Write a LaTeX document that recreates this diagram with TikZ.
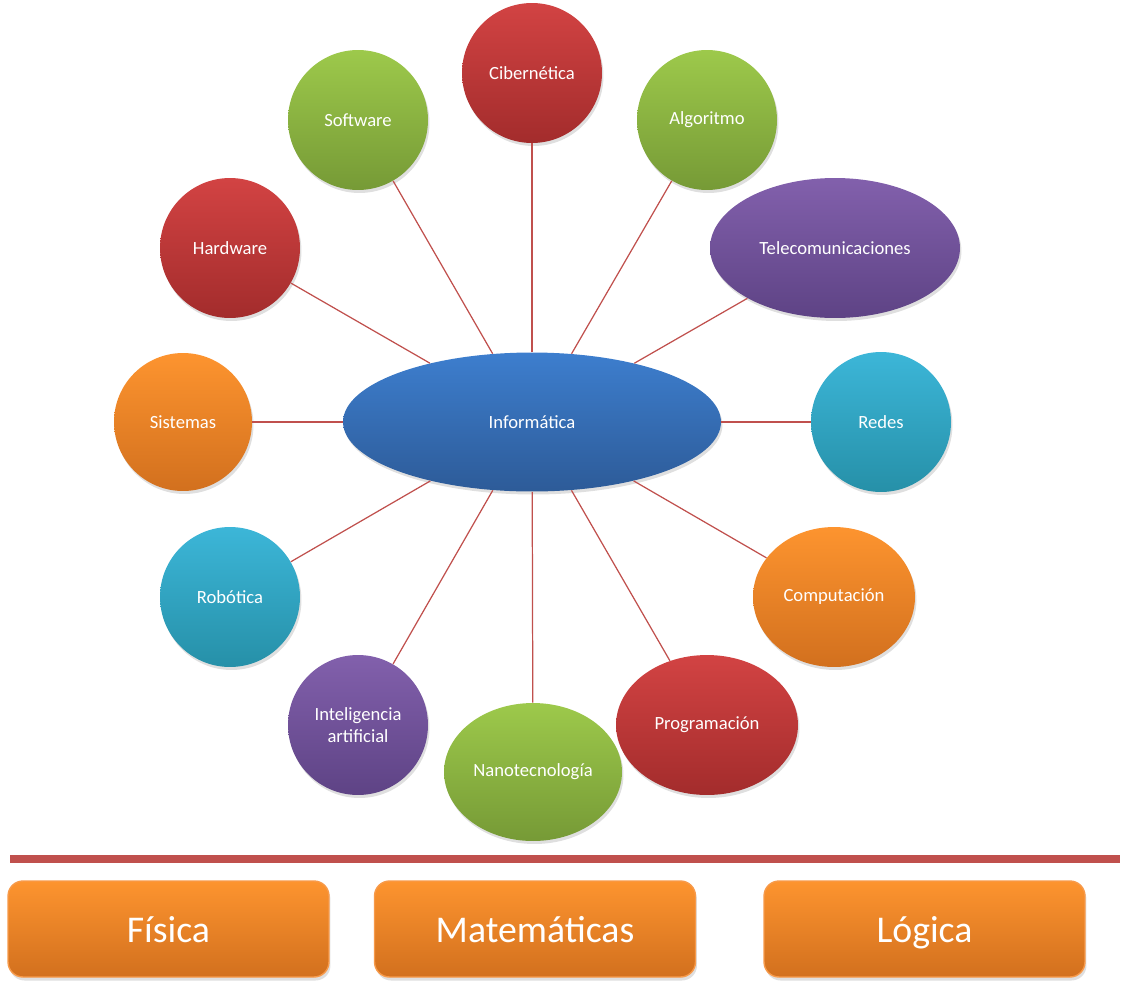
\documentclass[tikz,border=0pt]{standalone}
\usepackage{fontspec}
\setmainfont{Carlito}
\usetikzlibrary{shapes.geometric,shadows}

\definecolor{redtop}{HTML}{D24343}
\definecolor{redbot}{HTML}{A32C2C}
\definecolor{greentop}{HTML}{9DC94B}
\definecolor{greenbot}{HTML}{769A36}
\definecolor{purpletop}{HTML}{8260AC}
\definecolor{purplebot}{HTML}{5E4385}
\definecolor{bluetop}{HTML}{3D7ECE}
\definecolor{bluebot}{HTML}{2D5B98}
\definecolor{cyantop}{HTML}{3CB6D8}
\definecolor{cyanbot}{HTML}{2690A8}
\definecolor{orangetop}{HTML}{FD942F}
\definecolor{orangebot}{HTML}{D2701E}
\definecolor{orangeedge}{HTML}{F79A4A}
\definecolor{linkred}{HTML}{C0504D}

\tikzset{
  ball/.style={circle, minimum size=2.8cm, inner sep=1pt, align=center, text=white,
    font=\fontsize{10.6}{12.5}\selectfont,
    drop shadow={opacity=0.25, shadow xshift=0.03cm, shadow yshift=-0.06cm}},
  oval/.style={ball, ellipse},
  redball/.style={top color=redtop, bottom color=redbot},
  greenball/.style={top color=greentop, bottom color=greenbot},
  purpleball/.style={top color=purpletop, bottom color=purplebot},
  blueball/.style={top color=bluetop, bottom color=bluebot},
  cyanball/.style={top color=cyantop, bottom color=cyanbot},
  orangeball/.style={top color=orangetop, bottom color=orangebot},
  link/.style={draw=linkred, line width=0.7pt},
  base/.style={rounded corners=0.3cm, minimum width=6.42cm, minimum height=1.92cm,
    top color=orangetop, bottom color=orangebot, draw=orangeedge, line width=0.8pt,
    text=white, font=\fontsize{21.5}{25}\selectfont, text height=18pt, text depth=3.2pt,
    drop shadow={opacity=0.25, shadow xshift=0.03cm, shadow yshift=-0.07cm}}
}

\begin{document}
\begin{tikzpicture}[x=0.02cm, y=-0.02cm]
\useasboundingbox (0,0) rectangle (1121,990);

\node[oval, blueball, minimum width=7.56cm, minimum height=2.78cm] (info) at (532,422) {Informática};

\node[ball, redball] (ciber) at (532,73) {Cibernética};
\node[ball, greenball] (soft) at (358,120) {Software};
\node[ball, greenball] (algo) at (707,120) {Algoritmo};
\node[ball, redball] (hard) at (230,248) {Hardware};
\node[oval, purpleball, minimum width=5cm, minimum height=2.8cm] (tele) at (835,248) {Telecomunicaciones};
\node[ball, orangeball, minimum size=2.76cm] (sist) at (183,422) {Sistemas};
\node[ball, cyanball] (redes) at (881,422) {Redes};
\node[ball, cyanball] (robo) at (230,597) {Robótica};
\node[oval, orangeball, minimum width=3.24cm, minimum height=2.8cm] (comp) at (834,597) {Computación};
\node[ball, purpleball] (ia) at (358,725) {Inteligencia\\artificial};
\node[oval, greenball, minimum width=3.56cm, minimum height=2.76cm] (nano) at (533,772) {Nanotecnología};
\node[oval, redball, minimum width=3.64cm, minimum height=2.8cm] (prog) at (707,725) {Programación};

\foreach \n in {ciber,soft,algo,hard,tele,sist,redes,robo,comp,ia,nano,prog}
  \draw[link] (info) -- (\n);

\fill[linkred] (10,855) rectangle (1120,863);

\node[base] (fis) at (168.5,929) {Física};
\node[base] (mat) at (535,929) {Matemáticas};
\node[base] (log) at (924.5,929) {Lógica};
\end{tikzpicture}
\end{document}
